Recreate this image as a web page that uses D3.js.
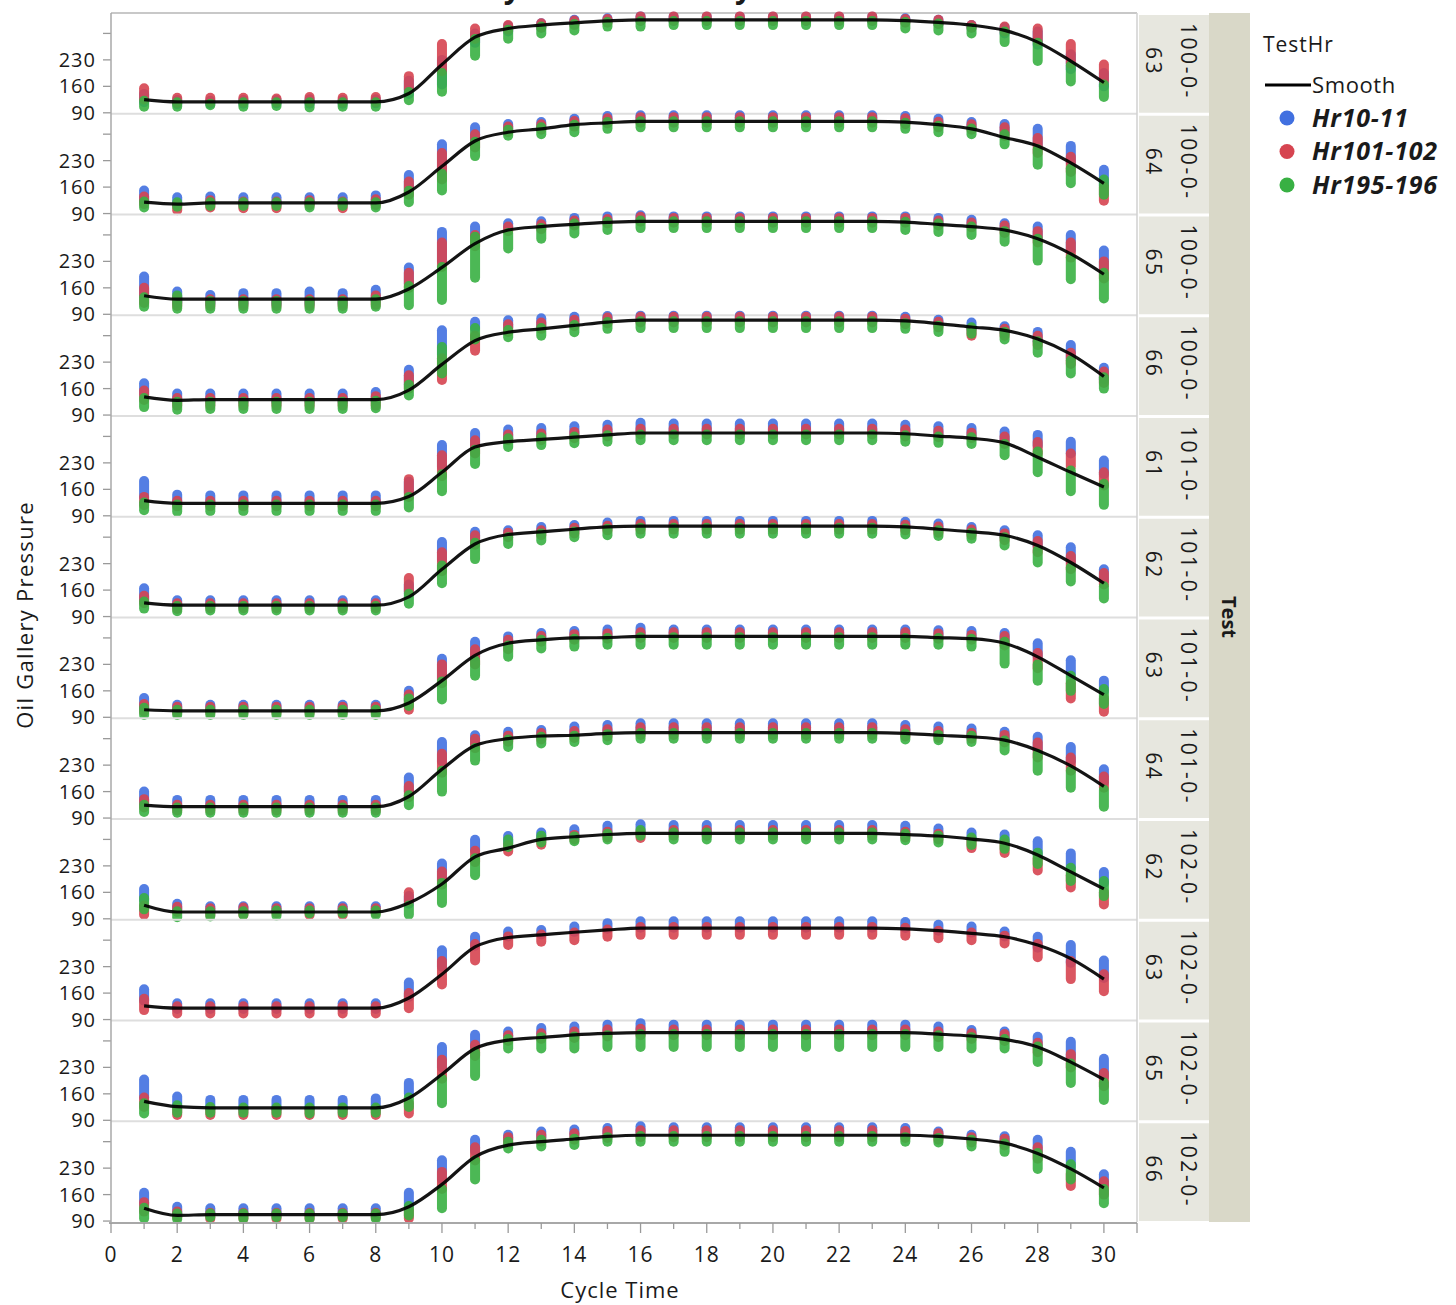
<!DOCTYPE html>
<html><head><meta charset="utf-8">
<script src="https://cdn.jsdelivr.net/npm/d3@7"></script>
<style>
body{margin:0;background:#fff}
text{font-family:"Open Sans","Noto Sans",sans-serif;fill:#1a1a1a}
</style>
</head><body><svg id="c" width="1456" height="1305"></svg>
<script>
const tests = ["100-0-63","100-0-64","100-0-65","100-0-66","101-0-61","101-0-62","101-0-63","101-0-64","102-0-62","102-0-63","102-0-65","102-0-66"];
const cycleTimes = [1,2,3,4,5,6,7,8,9,10,11,12,13,14,15,16,17,18,19,20,21,22,23,24,25,26,27,28,29,30];
const xTickValues = [0,1,2,3,4,5,6,7,8,9,10,11,12,13,14,15,16,17,18,19,20,21,22,23,24,25,26,27,28,29,30,31];
const yTickValues = [90,160,230,300];
const yTickLabels = ["90","160","230",""];
const seriesNames = ["Hr10-11","Hr101-102","Hr195-196"];
const seriesColors = ["#4170e0","#d64450","#38b043"];

const smooth = [
[125,119,119,119,119,119,119,119,141,218,290,313,322,328,333,336,336,336,336,336,336,336,336,334,329,322,308,277,227,170],
[120,115,118,118,118,118,118,118,147,215,282,305,314,325,330,334,334,334,334,334,334,334,334,332,325,314,291,269,224,170],
[139,130,130,130,130,130,130,130,157,214,277,313,322,328,333,336,336,336,336,336,336,336,336,334,328,322,313,290,250,196],
[138,129,131,131,131,131,131,131,156,224,287,309,318,327,336,341,341,341,341,341,341,341,341,339,332,323,314,291,251,192],
[130,123,123,123,123,123,123,123,141,205,272,286,292,298,304,309,309,309,309,309,309,309,309,307,301,295,283,245,205,166],
[126,120,120,120,120,120,120,120,142,215,282,307,314,321,327,329,329,329,329,329,329,329,329,327,321,314,305,278,233,178],
[110,107,107,107,107,107,107,107,128,187,254,286,295,300,301,304,304,304,304,304,304,304,304,304,301,298,286,250,200,150],
[124,120,120,120,120,120,120,120,147,219,282,300,307,309,314,316,316,316,316,316,316,316,316,314,309,305,296,269,228,174],
[126,108,108,108,108,108,108,108,132,182,254,277,300,307,313,316,316,316,316,316,316,316,316,313,309,301,290,259,214,169],
[126,120,120,120,120,120,120,120,147,210,282,307,314,321,327,332,332,332,332,332,332,332,332,330,325,318,309,287,251,197],
[140,126,123,123,123,123,123,123,149,212,280,302,309,316,320,322,322,322,322,322,322,322,322,322,318,313,304,284,244,198],
[124,105,107,107,107,107,107,107,128,187,260,291,300,307,314,317,317,317,317,317,317,317,317,317,314,307,296,269,228,178]
];

// [low, high] of readings per cycle time, one list per test panel
const hr10_11 = [
[[118,140],[113,124],[114,122],[114,124],[115,124],[114,126],[114,124],[115,126],[140,175],[165,230],
 [275,300],[305,320],[315,327],[325,336],[330,340],[333,345],[333,344],[333,344],[333,344],[333,344],
 [333,344],[333,344],[333,344],[330,340],[325,336],[315,322],[300,316],[270,305],[205,245],[160,195]],
[[125,151],[115,133],[118,135],[115,133],[115,133],[115,133],[115,133],[115,138],[150,192],[200,273],
 [285,318],[310,327],[318,332],[325,341],[330,348],[335,350],[334,350],[334,350],[334,350],[334,350],
 [334,350],[334,350],[334,350],[330,348],[322,341],[315,332],[305,327],[270,314],[225,269],[165,206]],
[[140,190],[120,150],[118,141],[118,146],[118,146],[118,150],[118,146],[125,155],[170,214],[230,308],
 [300,322],[320,331],[325,336],[330,345],[335,349],[338,352],[335,349],[335,349],[335,349],[335,349],
 [335,349],[335,349],[335,349],[335,349],[330,345],[325,340],[315,331],[295,322],[260,300],[210,259]],
[[145,174],[125,147],[125,147],[125,147],[125,147],[125,147],[125,147],[128,151],[170,210],[250,314],
 [320,337],[322,341],[325,346],[332,350],[336,352],[338,353],[338,353],[338,353],[338,353],[338,353],
 [338,353],[338,353],[338,353],[335,350],[328,342],[318,335],[308,325],[285,310],[240,275],[185,215]],
[[140,182],[122,146],[122,144],[122,144],[122,144],[122,144],[122,144],[122,144],[150,180],[220,277],
 [275,309],[295,318],[300,322],[305,327],[310,331],[315,336],[314,334],[314,334],[314,334],[314,334],
 [314,334],[314,334],[314,334],[310,331],[305,327],[300,322],[290,313],[275,304],[255,286],[200,236]],
[[135,165],[118,133],[118,133],[118,133],[118,133],[118,133],[118,133],[118,133],[150,175],[240,287],
 [295,314],[305,318],[312,327],[318,332],[325,339],[328,343],[328,343],[328,343],[328,343],[328,343],
 [328,343],[328,343],[328,343],[326,341],[320,336],[312,327],[300,318],[275,305],[235,273],[185,215]],
[[115,141],[108,123],[108,123],[108,123],[108,123],[108,123],[108,123],[108,123],[135,160],[190,245],
 [250,290],[285,304],[295,313],[300,318],[305,322],[310,327],[308,322],[308,322],[308,322],[308,322],
 [308,322],[308,322],[308,322],[308,322],[306,320],[300,318],[295,313],[250,286],[205,241],[160,187]],
[[130,160],[118,138],[118,138],[118,138],[118,138],[118,138],[118,138],[118,138],[160,197],[240,291],
 [285,309],[300,318],[305,323],[312,332],[318,336],[320,341],[320,341],[320,341],[320,341],[320,341],
 [320,341],[320,341],[320,341],[318,336],[312,332],[308,327],[300,318],[270,305],[240,278],[185,219]],
[[140,169],[115,130],[110,123],[112,123],[112,123],[112,123],[112,123],[112,123],[130,150],[190,236],
 [270,299],[290,309],[305,318],[312,327],[320,336],[325,340],[322,338],[322,338],[322,338],[322,338],
 [322,338],[322,338],[322,338],[320,336],[315,329],[305,318],[295,313],[260,295],[225,263],[185,214]],
[[140,170],[118,133],[118,133],[118,133],[118,133],[118,133],[118,133],[118,133],[150,188],[230,273],
 [285,309],[310,323],[315,327],[322,336],[330,345],[333,350],[333,350],[333,350],[333,350],[333,350],
 [333,350],[333,350],[333,350],[332,348],[325,341],[320,336],[310,323],[280,309],[240,287],[200,246]],
[[150,198],[125,153],[120,144],[120,144],[120,144],[120,144],[120,144],[120,148],[160,189],[230,284],
 [285,316],[308,325],[318,334],[322,338],[326,343],[330,347],[326,343],[326,343],[326,343],[326,343],
 [326,343],[326,343],[326,343],[326,343],[322,338],[315,329],[310,325],[285,311],[255,298],[205,253]],
[[135,165],[110,128],[110,124],[110,124],[110,124],[110,124],[110,124],[110,124],[130,165],[200,251],
 [275,305],[305,318],[312,327],[318,332],[322,336],[324,341],[322,338],[322,338],[322,338],[322,338],
 [322,338],[322,338],[322,338],[322,336],[315,327],[305,318],[300,314],[275,305],[235,273],[185,214]]
];

const hr101_102 = [
[[125,155],[116,130],[118,130],[118,130],[118,128],[118,132],[118,130],[118,132],[150,187],[200,272],
 [285,313],[310,322],[315,327],[322,334],[328,338],[333,345],[333,345],[333,345],[333,345],[333,345],
 [333,345],[333,345],[333,345],[328,338],[325,336],[315,322],[305,318],[280,313],[220,272],[175,218]],
[[115,135],[99,115],[106,125],[104,122],[104,122],[112,125],[104,122],[112,128],[140,175],[180,250],
 [265,300],[305,320],[312,326],[320,335],[328,342],[330,345],[330,345],[330,345],[330,345],[330,345],
 [330,345],[330,345],[330,345],[326,342],[318,333],[312,326],[295,318],[250,290],[200,240],[124,160]],
[[120,160],[112,135],[112,130],[112,130],[112,130],[112,130],[112,130],[115,140],[160,200],[215,280],
 [270,300],[310,322],[315,328],[325,338],[330,342],[335,348],[332,345],[332,345],[332,345],[332,345],
 [332,345],[332,345],[332,345],[332,345],[325,338],[320,333],[305,325],[280,310],[240,280],[185,230]],
[[130,155],[115,135],[115,135],[115,135],[115,135],[115,135],[115,135],[115,140],[160,195],[183,240],
 [260,300],[310,330],[318,335],[325,342],[332,348],[335,350],[335,350],[335,350],[335,350],[335,350],
 [335,350],[335,350],[335,350],[330,345],[322,337],[300,318],[300,318],[275,300],[225,255],[175,205]],
[[118,140],[115,130],[115,130],[115,130],[115,130],[115,130],[115,130],[115,130],[140,187],[195,250],
 [255,290],[290,305],[290,308],[295,312],[300,318],[305,320],[305,320],[305,320],[305,320],[305,320],
 [305,320],[305,320],[305,320],[300,318],[298,315],[295,310],[280,300],[255,285],[220,255],[170,205]],
[[125,145],[110,125],[112,125],[112,125],[112,125],[112,125],[112,125],[112,125],[155,192],[210,260],
 [280,305],[300,312],[305,318],[310,325],[318,330],[320,335],[320,335],[320,335],[320,335],[320,335],
 [320,335],[320,335],[320,335],[318,333],[312,328],[305,320],[292,310],[260,290],[215,250],[175,205]],
[[105,125],[102,118],[102,118],[102,118],[102,118],[102,118],[102,118],[102,118],[110,150],[180,230],
 [230,270],[270,295],[290,305],[295,310],[298,312],[300,315],[300,315],[300,315],[300,315],[300,315],
 [300,315],[300,315],[300,315],[300,315],[298,312],[295,308],[280,305],[220,260],[140,180],[105,140]],
[[118,140],[110,125],[110,125],[110,125],[110,125],[110,125],[110,125],[110,125],[145,175],[210,260],
 [275,300],[292,308],[298,315],[302,320],[306,325],[310,330],[310,330],[310,330],[310,330],[310,330],
 [310,330],[310,330],[310,330],[306,325],[302,320],[300,315],[290,310],[250,290],[215,250],[170,200]],
[[101,125],[108,122],[100,118],[100,120],[105,118],[100,118],[100,118],[105,118],[135,160],[180,215],
 [240,270],[268,285],[286,300],[300,312],[305,320],[304,320],[310,325],[310,325],[310,325],[310,325],
 [310,325],[310,325],[310,325],[305,320],[300,315],[277,300],[264,290],[218,250],[173,205],[128,160]],
[[115,145],[106,125],[106,125],[106,125],[106,125],[106,125],[106,125],[106,125],[120,160],[183,245],
 [246,290],[287,310],[296,315],[300,320],[309,328],[314,335],[314,335],[314,335],[314,335],[314,335],
 [314,335],[314,335],[314,335],[312,333],[305,325],[300,320],[291,312],[255,290],[197,245],[165,210]],
[[125,150],[104,120],[104,122],[104,120],[104,120],[104,120],[104,120],[104,120],[108,135],[200,250],
 [260,290],[300,315],[305,320],[308,325],[312,330],[315,332],[315,330],[315,330],[315,330],[315,330],
 [315,330],[315,330],[315,330],[315,330],[310,325],[305,320],[300,318],[270,295],[230,265],[180,215]],
[[115,140],[100,115],[96,112],[96,112],[96,112],[96,112],[96,112],[100,112],[97,120],[175,220],
 [250,285],[295,312],[300,318],[305,322],[310,328],[312,330],[312,330],[312,330],[312,330],[312,330],
 [312,330],[312,330],[312,330],[310,328],[305,322],[298,312],[290,308],[255,285],[183,215],[160,195]]
];

const hr195_196 = [
[[106,122],[106,118],[110,114],[106,118],[108,118],[104,118],[106,118],[106,118],[123,145],[146,195],
 [241,285],[286,310],[300,318],[308,325],[318,330],[318,332],[322,333],[322,333],[322,333],[322,333],
 [322,333],[322,333],[322,333],[313,330],[308,326],[300,315],[277,305],[227,275],[173,215],[132,165]],
[[106,122],[108,120],[110,120],[110,120],[110,120],[106,120],[110,120],[106,120],[120,150],[151,195],
 [242,280],[296,312],[300,318],[305,325],[314,332],[318,334],[318,334],[318,334],[318,334],[318,334],
 [318,334],[318,334],[318,334],[314,330],[305,322],[300,315],[273,300],[219,260],[170,210],[140,180]],
[[110,135],[105,140],[105,125],[105,125],[105,125],[105,125],[105,125],[110,130],[114,165],[128,215],
 [187,295],[264,305],[290,318],[304,330],[313,335],[318,338],[318,336],[318,336],[318,336],[318,336],
 [318,336],[318,336],[318,336],[313,335],[308,330],[300,322],[282,310],[232,290],[183,240],[132,200]],
[[111,135],[104,125],[106,125],[106,125],[106,125],[106,125],[106,125],[108,128],[142,170],[200,270],
 [290,320],[296,315],[300,320],[309,328],[318,336],[320,338],[320,338],[320,338],[320,338],[320,338],
 [320,338],[320,338],[320,338],[318,333],[310,326],[305,322],[290,310],[255,285],[200,235],[160,190]],
[[105,125],[101,120],[102,120],[102,120],[102,120],[102,120],[102,120],[102,120],[112,140],[155,200],
 [227,265],[272,295],[277,298],[282,300],[286,303],[290,305],[290,305],[290,305],[290,305],[290,305],
 [290,305],[290,305],[290,305],[286,303],[283,300],[280,298],[250,280],[205,260],[155,210],[119,175]],
[[111,130],[104,118],[106,118],[106,118],[106,118],[106,118],[106,118],[106,118],[124,150],[178,225],
 [242,285],[282,300],[291,310],[300,315],[305,322],[309,325],[309,325],[309,325],[309,325],[309,325],
 [309,325],[309,325],[309,325],[307,323],[303,318],[296,312],[278,300],[233,265],[183,220],[138,170]],
[[96,115],[96,110],[96,110],[96,110],[96,110],[96,110],[96,110],[96,110],[120,140],[137,185],
 [200,240],[250,280],[272,295],[277,298],[282,300],[282,302],[282,302],[282,302],[282,302],[282,302],
 [282,302],[282,302],[282,302],[282,300],[282,300],[277,298],[232,290],[187,230],[160,200],[125,165]],
[[106,125],[104,118],[104,118],[104,118],[104,118],[104,118],[104,118],[104,118],[124,150],[160,215],
 [242,275],[278,298],[287,305],[291,308],[296,312],[300,315],[300,315],[300,315],[300,315],[300,315],
 [300,315],[300,315],[300,315],[298,313],[296,310],[291,308],[269,295],[215,260],[170,215],[120,165]],
[[115,145],[94,110],[96,110],[100,110],[98,112],[104,112],[104,112],[100,112],[101,125],[132,185],
 [205,250],[280,300],[292,310],[295,308],[300,315],[310,325],[300,318],[300,318],[300,318],[300,318],
 [300,318],[300,318],[300,318],[298,315],[292,310],[285,305],[275,300],[235,265],[190,225],[150,190]],
[],
[[108,135],[110,130],[110,125],[110,124],[110,124],[108,124],[110,124],[110,124],[125,150],[135,200],
 [207,270],[280,305],[280,310],[280,312],[284,315],[284,318],[284,318],[284,318],[284,318],[284,318],
 [284,318],[284,318],[284,318],[284,318],[284,315],[280,310],[280,305],[244,285],[189,240],[144,190]],
[[97,125],[95,110],[100,110],[96,110],[100,110],[96,110],[100,110],[96,110],[105,130],[124,175],
 [200,250],[282,300],[287,305],[291,308],[300,312],[300,315],[300,315],[300,315],[300,315],[300,315],
 [300,315],[300,315],[300,315],[300,312],[298,310],[287,305],[273,295],[228,270],[200,240],[137,175]]
];

const seriesData = [hr10_11, hr101_102, hr195_196];

const svg = d3.select("#c");
svg.append("rect").attr("width",1456).attr("height",1305).attr("fill","#fff");

const plotL = 111, plotR = 1137, top0 = 13, panelH = 100.75, nP = tests.length;
const plotB = top0 + nP*panelH;
const x = d3.scaleLinear().domain([0,31]).range([plotL, plotR]);

// title (clipped at top, as in the reference)
svg.append("text").attr("x",620).attr("y",-2).attr("text-anchor","middle")
  .style("font-size","30px").style("font-weight","bold").text("Oil Gallery Pressure vs. Cycle Time");

// outer strip background
svg.append("rect").attr("x",1209).attr("y",top0).attr("width",41).attr("height",plotB-top0).attr("fill","#d9d8c8");

tests.forEach((t,i)=>{
  const pt = top0 + i*panelH, pb = pt + panelH;
  const y = d3.scaleLinear().domain([87.5,354]).range([pb, pt]);
  const g = svg.append("g");
  g.append("line").attr("x1",plotL).attr("x2",plotR).attr("y1",pt).attr("y2",pt)
    .attr("stroke", i===0 ? "#c8c8c8" : "#dedede").attr("stroke-width",2);
  yTickValues.forEach((v,k)=>{
    g.append("line").attr("x1",plotL-8).attr("x2",plotL).attr("y1",y(v)).attr("y2",y(v))
      .attr("stroke","#9a9a9a").attr("stroke-width",1.3);
    if (yTickLabels[k]) g.append("text").attr("x",plotL-15).attr("y",y(v)).attr("dy","0.35em")
      .attr("text-anchor","end").style("font-size","20px").style("letter-spacing","1px").text(yTickLabels[k]);
  });
  seriesData.forEach((sd,s)=>{
    const rows = sd[i];
    g.selectAll(null).data(rows).join("line")
      .attr("x1",(d,j)=>x(cycleTimes[j])).attr("x2",(d,j)=>x(cycleTimes[j]))
      .attr("y1",d=>y(d[0])).attr("y2",d=>y(d[1]))
      .attr("stroke",seriesColors[s]).attr("stroke-width",10).attr("stroke-linecap","round")
      .attr("stroke-opacity",0.9);
  });
  const line = d3.line().x((d,j)=>x(cycleTimes[j])).y(d=>y(d)).curve(d3.curveMonotoneX);
  g.append("path").attr("d",line(smooth[i])).attr("fill","none").attr("stroke","#000")
    .attr("stroke-width",3.2).attr("stroke-opacity",0.92);
  g.append("rect").attr("x",plotR+2).attr("y",pt+2).attr("width",1209-plotR-2).attr("height",panelH-3)
    .attr("fill","#e7e7df");
  const parts = [t.slice(0,t.lastIndexOf("-")+1), t.slice(t.lastIndexOf("-")+1)];
  const sg = g.append("g").attr("transform",`translate(1171,${pt+panelH/2-2}) rotate(90)`);
  sg.append("text").attr("x",0).attr("y",-17).attr("dy","0.35em").attr("text-anchor","middle")
    .style("font-size","21px").style("letter-spacing","2.5px").text(parts[0]);
  sg.append("text").attr("x",0).attr("y",18).attr("dy","0.35em").attr("text-anchor","middle")
    .style("font-size","21px").style("letter-spacing","2.5px").text(parts[1]);
});

svg.append("line").attr("x1",plotL).attr("x2",plotL).attr("y1",top0).attr("y2",plotB).attr("stroke","#a8a8a8").attr("stroke-width",1.5);
svg.append("line").attr("x1",plotR).attr("x2",plotR).attr("y1",top0).attr("y2",plotB).attr("stroke","#d0d0d0").attr("stroke-width",1.5);

const xa = svg.append("g");
xa.append("line").attr("x1",plotL-2).attr("x2",plotR).attr("y1",plotB+1).attr("y2",plotB+1).attr("stroke","#a8a8a8").attr("stroke-width",2);
xTickValues.forEach(v=>{
  const major = v%2===0 || v===31;
  xa.append("line").attr("x1",x(v)).attr("x2",x(v)).attr("y1",plotB+1).attr("y2",plotB+(major?11:7))
    .attr("stroke","#9a9a9a").attr("stroke-width",1.3);
  if (v%2===0) xa.append("text").attr("x",x(v)).attr("y",plotB+40).attr("text-anchor","middle")
    .style("font-size","21px").style("letter-spacing","1px").text(v);
});
svg.append("text").attr("x",620).attr("y",1298).attr("text-anchor","middle").style("font-size","22px")
  .style("letter-spacing","1px").text("Cycle Time");
svg.append("text").attr("transform","translate(33,615) rotate(-90)").attr("text-anchor","middle")
  .style("font-size","22px").style("letter-spacing","1.3px").text("Oil Gallery Pressure");
svg.append("text").attr("transform",`translate(1229,617) rotate(90)`).attr("text-anchor","middle").attr("dy","0.35em")
  .style("font-size","20px").style("font-weight","bold").text("Test");

const lg = svg.append("g");
lg.append("text").attr("x",1263).attr("y",52).style("font-size","21px").style("letter-spacing","1px").text("TestHr");
lg.append("line").attr("x1",1265).attr("x2",1311).attr("y1",85).attr("y2",85).attr("stroke","#000").attr("stroke-width",3);
lg.append("text").attr("x",1312).attr("y",93).style("font-size","22px").style("letter-spacing","0.6px").text("Smooth");
seriesNames.forEach((n,k)=>{
  const yy = 118 + k*33.5;
  lg.append("circle").attr("cx",1287).attr("cy",yy).attr("r",7.5).attr("fill",seriesColors[k]);
  lg.append("text").attr("x",1312).attr("y",yy).attr("dy","0.35em").style("font-size","25px")
    .style("font-weight","bold").style("font-style","italic").style("letter-spacing","0.8px").text(n);
});
</script></body></html>
